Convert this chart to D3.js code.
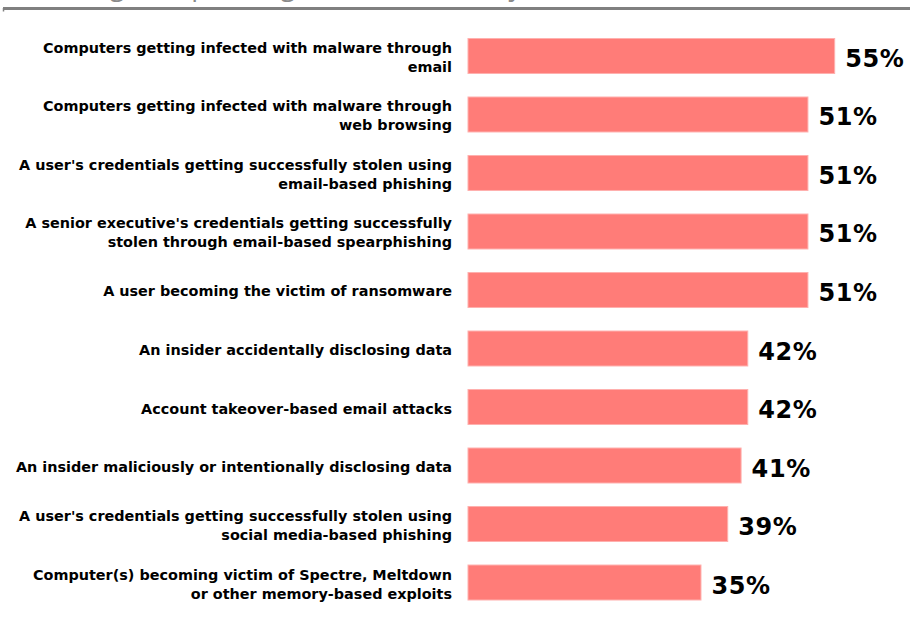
<!DOCTYPE html>
<html><head><meta charset="utf-8">
<script src="https://cdn.jsdelivr.net/npm/d3@7"></script>
<style>body{margin:0;background:#fff;}svg{display:block;}</style>
</head><body>
<svg id="chart" width="910" height="626"></svg>
<script>
const title = "Percentage Responding a Concern or Major Concern";
const categories = [
  ["Computers getting infected with malware through", "email"],
  ["Computers getting infected with malware through", "web browsing"],
  ["A user's credentials getting successfully stolen using", "email-based phishing"],
  ["A senior executive's credentials getting successfully", "stolen through email-based spearphishing"],
  ["A user becoming the victim of ransomware"],
  ["An insider accidentally disclosing data"],
  ["Account takeover-based email attacks"],
  ["An insider maliciously or intentionally disclosing data"],
  ["A user's credentials getting successfully stolen using", "social media-based phishing"],
  ["Computer(s) becoming victim of Spectre, Meltdown", "or other memory-based exploits"]
];
const values = [55, 51, 51, 51, 51, 42, 42, 41, 39, 35];

const svg = d3.select("#chart");
const ids = d3.range(categories.length);
const y = d3.scaleBand().domain(ids).range([38, 600.5]).paddingInner(0.385).paddingOuter(0);
const x = d3.scaleLinear().domain([0, 100]).range([467.5, 1136]);

// title (mostly clipped at the top)
svg.append("text").attr("x", -2).attr("y", -5)
  .attr("font-family", "Open Sans, sans-serif").attr("font-size", 27)
  .attr("fill", "#8a8a8a").text(title);
svg.append("line").attr("x1", 3).attr("x2", 910).attr("y1", 8.5).attr("y2", 8.5)
  .attr("stroke", "#808080").attr("stroke-width", 3);
svg.append("line").attr("x1", 3.5).attr("x2", 3.5).attr("y1", 8).attr("y2", 11.5)
  .attr("stroke", "#808080").attr("stroke-width", 1.5);

const g = svg.append("g");
g.selectAll("rect").data(ids).join("rect")
  .attr("x", x(0) + 0.5).attr("y", d => y(d) + 0.5)
  .attr("width", d => x(values[d]) - x(0) - 1).attr("height", y.bandwidth() - 1)
  .attr("fill", "#FF7C78").attr("stroke", "#FFB0AE").attr("stroke-width", 1);

g.selectAll("text.val").data(ids).join("text").attr("class", "val")
  .attr("x", d => x(values[d]) + 10).attr("y", d => y(d) + y.bandwidth() / 2 + 11)
  .attr("font-family", "DejaVu Sans, Verdana, sans-serif").attr("font-weight", "bold")
  .attr("font-size", 24).attr("letter-spacing", 0.6).attr("fill", "#000").text(d => values[d] + "%");

const lab = g.selectAll("text.lab").data(ids).join("text").attr("class", "lab")
  .attr("text-anchor", "end")
  .attr("font-family", "DejaVu Sans, Verdana, sans-serif").attr("font-weight", "bold")
  .attr("font-size", 14.4).attr("fill", "#000");
lab.each(function(d) {
  const lines = categories[d];
  const cy = y(d) + y.bandwidth() / 2;
  const lh = 19;
  const t = d3.select(this);
  lines.forEach((s, i) => {
    t.append("tspan").attr("x", 452)
      .attr("y", cy + (i - (lines.length - 1) / 2) * lh + 6.5)
      .text(s);
  });
});
</script>
</body></html>
